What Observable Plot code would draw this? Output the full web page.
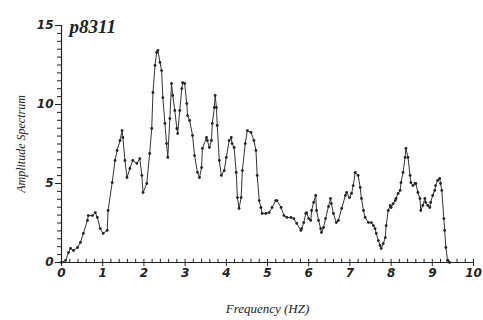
<!DOCTYPE html>
<html>
<head>
<meta charset="utf-8">
<script src="https://cdn.jsdelivr.net/npm/d3@7"></script>
<script src="https://cdn.jsdelivr.net/npm/@observablehq/plot@0.6"></script>
<style>
  html, body { margin: 0; padding: 0; background: #fff; }
</style>
</head>
<body>
<div id="chart"></div>
<script>
const title = "p8311";
const xLabel = "Frequency (HZ)";
const yLabel = "Amplitude Spectrum";
const xTicks = [0, 1, 2, 3, 4, 5, 6, 7, 8, 9, 10];
const yTicks = [0, 5, 10, 15];
const xMinorStep = 0.2;
const yMinorStep = 0.5;

const freq = [0,0.10,0.17,0.22,0.29,0.39,0.46,0.53,0.63,0.65,0.75,0.82,0.87,0.94,1.01,1.11,1.13,1.23,1.30,1.35,1.42,1.47,1.49,1.54,1.59,1.66,1.73,1.83,1.90,1.95,1.98,2.07,2.14,2.19,2.22,2.27,2.31,2.34,2.39,2.43,2.46,2.51,2.55,2.58,2.63,2.67,2.70,2.75,2.80,2.82,2.87,2.92,2.94,2.99,3.04,3.06,3.11,3.18,3.23,3.30,3.35,3.40,3.42,3.52,3.54,3.59,3.64,3.66,3.71,3.73,3.76,3.78,3.83,3.88,3.95,4.00,4.07,4.12,4.14,4.19,4.24,4.27,4.31,4.36,4.39,4.46,4.51,4.60,4.67,4.72,4.75,4.80,4.84,4.87,4.96,5.04,5.11,5.20,5.23,5.33,5.40,5.47,5.57,5.64,5.71,5.81,5.83,5.88,5.93,5.95,6.00,6.05,6.07,6.12,6.17,6.19,6.24,6.29,6.31,6.36,6.41,6.48,6.53,6.55,6.60,6.67,6.72,6.80,6.89,6.92,6.99,7.04,7.08,7.13,7.20,7.25,7.28,7.33,7.37,7.45,7.52,7.57,7.61,7.64,7.69,7.73,7.76,7.81,7.86,7.88,7.93,7.98,8.00,8.05,8.10,8.12,8.17,8.22,8.24,8.29,8.34,8.36,8.41,8.46,8.48,8.53,8.58,8.60,8.65,8.70,8.72,8.77,8.82,8.84,8.89,8.94,8.96,9.01,9.06,9.08,9.13,9.18,9.20,9.23,9.28,9.30,9.33,9.37,9.42];
const amp = [0,0.13,0.63,0.89,0.76,0.95,1.27,1.84,2.66,2.97,2.97,3.16,2.85,2.15,1.84,2.03,3.29,5.06,6.46,7.09,7.72,8.35,7.91,6.46,5.38,5.95,6.46,6.27,6.58,5.51,4.43,5.00,6.90,8.48,10.76,12.47,13.29,13.42,12.66,12.15,10.44,8.80,7.53,6.65,9.11,11.33,10.57,9.62,8.48,8.16,9.62,11.01,11.39,11.33,10.06,9.30,8.99,8.04,6.77,5.70,5.38,6.01,7.22,7.91,7.72,7.28,7.72,8.80,9.81,10.57,9.81,8.67,6.46,5.51,5.82,6.65,7.72,7.91,7.53,7.28,5.70,4.11,3.42,4.11,5.82,7.53,8.35,8.23,7.72,7.09,5.51,3.92,3.48,3.10,3.10,3.16,3.48,3.92,3.92,3.48,2.97,2.85,2.85,2.78,2.47,2.03,2.15,2.53,3.10,3.16,2.78,2.66,3.29,3.80,4.24,3.29,2.66,2.15,1.90,2.22,2.78,3.54,4.05,3.73,3.10,2.53,2.66,3.42,4.24,4.43,4.11,4.37,4.87,5.70,5.51,4.75,4.05,3.29,2.85,2.53,2.53,2.34,2.15,1.84,1.39,1.08,0.89,1.20,1.58,2.34,3.29,3.61,3.48,3.73,3.92,4.05,4.37,4.56,5.06,5.70,6.65,7.22,6.65,5.51,5.06,4.87,5.00,5.00,4.43,4.05,3.29,3.61,4.05,3.80,3.61,3.48,3.80,4.24,4.56,4.87,5.19,5.32,5.00,4.56,2.78,2.03,0.95,0.13,0];

const data = freq.map((f, i) => ({f, a: amp[i]}));
const xMinor = d3.range(0, 10 + 1e-9, xMinorStep).map(v => +v.toFixed(2));
const yMinor = d3.range(0, 15 + 1e-9, yMinorStep).map(v => +v.toFixed(2));

const ink = "#222";
const tickFont = "'DejaVu Sans', sans-serif";
const labelFont = "'Liberation Serif', 'DejaVu Serif', serif";

const chart = Plot.plot({
  width: 483,
  height: 320,
  marginLeft: 61,
  marginRight: 10,
  marginTop: 25,
  marginBottom: 58,
  style: {fontFamily: labelFont, fontStyle: "italic", color: ink, background: "#fff"},
  x: {domain: [0, 10]},
  y: {domain: [0, 15]},
  marks: [
    Plot.ruleY([0], {stroke: ink, strokeWidth: 1.2}),
    Plot.ruleX([0], {stroke: ink, strokeWidth: 1.2}),
    Plot.ruleX(xMinor, {y1: 0, y2: 0.2, stroke: ink, strokeWidth: 1}),
    Plot.axisX(xTicks, {anchor: "bottom", tickSize: 4, tickPadding: 2, fontSize: 12, fontWeight: "bold", fontStyle: "italic", fontFamily: tickFont, label: null}),
    Plot.axisX([], {anchor: "bottom", tickSize: 0, label: xLabel, labelAnchor: "center", labelArrow: "none", labelOffset: 50, fontSize: 13, fontFamily: labelFont, fontStyle: "italic", fontWeight: "normal"}),
    Plot.axisY(yMinor, {anchor: "left", tickSize: 4, text: null, label: null}),
    Plot.axisY(yTicks, {anchor: "left", tickSize: 6, tickPadding: 2, fontSize: 12, fontWeight: "bold", fontStyle: "italic", fontFamily: tickFont, label: null}),
    Plot.axisY([], {anchor: "left", tickSize: 0, label: yLabel, labelAnchor: "center", labelArrow: "none", labelOffset: 45, fontSize: 12, fontFamily: labelFont, fontStyle: "italic", fontWeight: "normal"}),
    Plot.line(data, {x: "f", y: "a", stroke: "#333", strokeWidth: 1}),
    Plot.dot(data, {x: "f", y: "a", r: 1.4, fill: "#222", stroke: "none"}),
    Plot.text([title], {frameAnchor: "top-left", dx: 8, dy: -6, text: d => d, fontSize: 19, fontWeight: "bold", fontStyle: "italic", textAnchor: "start", fill: ink})
  ]
});
document.getElementById("chart").appendChild(chart);
</script>
</body>
</html>
